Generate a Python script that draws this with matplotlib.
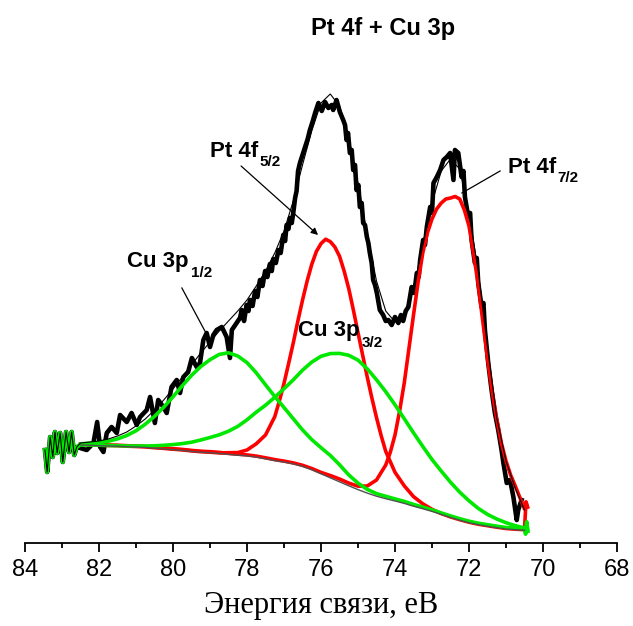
import numpy as np
import matplotlib.pyplot as plt
from matplotlib.ticker import MultipleLocator

plt.rcParams['font.family'] = ['Liberation Sans', 'DejaVu Sans']

# binding energy grid of the fitted curves, eV
energy = np.array([82.5, 82.25, 82.0, 81.75, 81.5, 81.25, 81.0, 80.75, 80.5, 80.25,
                   80.0, 79.75, 79.5, 79.25, 79.0, 78.75, 78.5, 78.25, 78.0, 77.75,
                   77.5, 77.25, 77.0, 76.75, 76.5, 76.25, 76.0, 75.75, 75.5, 75.25,
                   75.0, 74.75, 74.5, 74.25, 74.0, 73.75, 73.5, 73.25, 73.0, 72.75,
                   72.5, 72.25, 72.0, 71.75, 71.5, 71.25, 71.0, 70.75, 70.5])

# Shirley background
background = np.array([98, 97.8, 97.3, 97, 96.8, 96.3, 96, 95.6, 94.8, 94.1,
                       93.3, 92.6, 91.6, 90.8, 90.3, 89.6, 88.6, 87.8, 87.1, 85.9,
                       84.2, 82.4, 80.9, 79.1, 76.7, 73.3, 69.2, 65.2, 61.2, 57.2,
                       53.4, 49.9, 46.8, 44.3, 42, 39.6, 36.8, 34.3, 31.6, 28.6,
                       25.6, 22.8, 20.3, 18.3, 16.8, 15.3, 14, 13.3, 12.8])

# components (peak + background)
cu_3p12 = np.array([99.2, 99.7, 100.4, 101.7, 104.1, 107.5, 112.2, 118.8, 126.6, 135.8,
                    146.2, 157.2, 167.6, 176.4, 183.3, 188.6, 190.2, 187, 180.4, 170.2,
                    158.2, 146.5, 135.5, 124.3, 113.1, 103.4, 95.3, 87.6, 78.3, 68.1,
                    59.9, 53.6, 49.4, 46.7, 44.1, 41.6, 38.6, 35.9, 33.1, 30.1,
                    27.1, 24.3, 21.8, 19.8, 18.3, 16.8, 15.5, 14.8, 14.3])
cu_3p32 = np.array([98, 98, 97.8, 97.5, 97.3, 97, 97, 97, 97.2, 97.7,
                    98.4, 99.4, 100.8, 103, 105.5, 108.2, 111.8, 116.6, 123.2, 130.8,
                    137.8, 145.7, 154.3, 163.1, 172.8, 180.9, 186.7, 189.4, 189.6, 187.7,
                    182.9, 174.2, 163.2, 151.3, 138.2, 124.3, 110.2, 96.6, 83.5, 71.9,
                    60.8, 50.8, 42.2, 34.6, 28.6, 24, 20.3, 17.3, 15])
pt_4f52 = np.array([98.5, 98.3, 97.8, 97.5, 97.3, 96.8, 96.5, 96.1, 95.3, 94.6,
                    93.8, 93.1, 92.1, 91.3, 90.8, 90.1, 90.3, 90.4, 93, 99.2,
                    108, 126.3, 159.6, 200, 242.8, 278.6, 299.4, 301.4, 286.8, 254.4,
                    210.3, 166, 125.4, 91.6, 70.7, 57.2, 46.4, 39.2, 33.7, 29.4,
                    26.1, 23.3, 20.8, 18.8, 17.3, 15.8, 14.5, 13.8, 13.3])
pt_4f72 = np.array([99, 98.8, 98.3, 98, 97.8, 97.3, 97, 96.6, 95.8, 95.1,
                    94.3, 93.6, 92.6, 91.8, 91.3, 90.6, 89.6, 88.8, 88.1, 86.9,
                    85.2, 83.4, 81.9, 80.1, 77.7, 74.5, 70.6, 67.5, 64, 59.9,
                    56.8, 57, 63, 78, 108, 160, 228, 290, 324, 340,
                    345, 344, 317, 258, 184, 124, 82, 57, 34])
envelope = np.array([100, 101, 102, 104, 107, 111, 117, 124, 133, 143,
                     154, 166, 178, 190, 201, 212, 222, 232, 243, 257,
                     272, 290, 312, 342, 378, 412, 440, 449, 437, 404,
                     360, 308, 262, 232, 221, 228, 255, 297, 340, 372,
                     384, 374, 330, 272, 196, 125, 82, 55, 33])

# extra points across the two Pt peaks (half grid steps)
pt_4f52_mid_e = np.array([77.125, 76.875, 76.625, 76.375, 76.125, 75.875,
                          75.625, 75.375, 75.125, 74.875, 74.625, 74.375])
pt_4f52_mid_h = np.array([142, 179.5, 222, 262, 291.5, 303.8,
                          296, 272, 233, 188, 145, 107.5])
pt_4f72_mid_e = np.array([74.125, 73.875, 73.625, 73.375, 73.125, 72.875, 72.625,
                          72.375, 72.125, 71.875, 71.625, 71.375, 71.125, 70.875])
pt_4f72_mid_h = np.array([91, 132, 194, 261, 310, 334, 344,
                          346.5, 333, 289, 221, 152, 100, 68])

# raw data outside the fit window
edge_e = np.array([83.46, 83.40, 83.32, 83.25, 83.19, 83.13, 83.05, 82.98, 82.89,
                   82.81, 82.74, 82.67, 82.60])
edge_h = np.array([93, 71, 106, 86, 111, 90, 110, 81, 111, 91, 111, 88, 96])
tail_green_e = np.array([70.47, 70.44, 70.41])
tail_green_h = np.array([9, 21, 12])
tail_red_e = np.array([70.46, 70.42])
tail_red_h = np.array([41, 36])

# measured spectrum
raw_e = np.array([82.51, 82.33, 82.15, 82.05, 81.97, 81.88, 81.79, 81.66, 81.52, 81.43,
                  81.25, 81.12, 80.98, 80.89, 80.71, 80.62, 80.49, 80.40, 80.26, 80.17,
                  80.04, 79.90, 79.81, 79.72, 79.59, 79.49, 79.36, 79.27, 79.18, 79.09,
                  79.00, 78.91, 78.82, 78.68, 78.55, 78.46, 78.41, 78.28, 78.19, 78.14,
                  78.08, 78.01, 77.96, 77.92, 77.85, 77.78, 77.72, 77.65, 77.58, 77.51,
                  77.45, 77.38, 77.33, 77.29, 77.22, 77.15, 77.09, 77.02, 76.97, 76.93,
                  76.88, 76.84, 76.79, 76.75, 76.70, 76.66, 76.62, 76.57, 76.50, 76.43,
                  76.36, 76.30, 76.23, 76.16, 76.07, 75.98, 75.89, 75.80, 75.71, 75.67,
                  75.58, 75.49, 75.40, 75.35, 75.31, 75.27, 75.22, 75.17, 75.13, 75.08,
                  75.04, 74.99, 74.95, 74.90, 74.86, 74.81, 74.76, 74.72, 74.68, 74.63,
                  74.59, 74.54, 74.49, 74.41, 74.32, 74.25, 74.18, 74.09, 74.00, 73.91,
                  73.84, 73.78, 73.71, 73.64, 73.55, 73.48, 73.41, 73.36, 73.32, 73.24,
                  73.19, 73.14, 73.05, 73.00, 72.96, 72.87, 72.78, 72.69, 72.60, 72.51,
                  72.42, 72.38, 72.29, 72.20, 72.15, 72.11, 72.02, 71.97, 71.93, 71.84,
                  71.79, 71.75, 71.66, 71.61, 71.57, 71.48, 71.39, 71.30, 71.21, 71.12,
                  71.07, 70.98, 70.89, 70.80, 70.71, 70.67, 70.58])
raw_h = np.array([95, 93, 100, 121, 96, 91, 110, 116, 110, 128,
                  121, 130, 118, 126, 133, 146, 120, 143, 136, 130,
                  156, 163, 150, 166, 171, 185, 176, 180, 203, 210,
                  196, 208, 213, 216, 206, 185, 213, 220, 225, 233,
                  222, 238, 232, 243, 237, 252, 246, 263, 257, 272,
                  266, 279, 272, 284, 280, 293, 290, 308, 302, 318,
                  314, 325, 320, 330, 345, 352, 372, 380, 388, 396,
                  404, 413, 421, 430, 440, 432, 441, 435, 438, 433,
                  443, 431, 423, 418, 403, 410, 390, 393, 373, 378,
                  353, 358, 336, 340, 320, 318, 306, 300, 290, 280,
                  263, 258, 250, 233, 228, 222, 223, 218, 226, 220,
                  228, 222, 232, 236, 256, 250, 270, 266, 283, 303,
                  298, 316, 336, 330, 360, 366, 373, 383, 386, 390,
                  363, 393, 390, 366, 372, 346, 326, 330, 303, 280,
                  285, 260, 236, 240, 213, 180, 153, 130, 113, 93,
                  80, 60, 63, 46, 23, 33, 43])

red = '#ff0000'
green = '#00e800'


def merged(e1, h1, e2, h2):
    e = np.concatenate([e1, e2])
    h = np.concatenate([h1, h2])
    order = np.argsort(-e)
    return e[order], h[order]


fig = plt.figure(figsize=(6.33, 6.26), dpi=100)
ax = fig.add_axes([25 / 633, 83 / 626, 592 / 633, 503 / 626])

ax.plot(np.concatenate([edge_e, raw_e]), np.concatenate([edge_h, raw_h]),
        color='k', lw=3.3, zorder=2)

for comp, mid_e, mid_h in ((pt_4f52, pt_4f52_mid_e, pt_4f52_mid_h),
                           (pt_4f72, pt_4f72_mid_e, pt_4f72_mid_h)):
    e, h = merged(energy, comp, mid_e, mid_h)
    ax.plot(np.concatenate([e, tail_red_e]), np.concatenate([h, tail_red_h]),
            color=red, lw=2.6, zorder=3)
for comp in (cu_3p12, cu_3p32):
    ax.plot(np.concatenate([edge_e, energy, tail_green_e]),
            np.concatenate([edge_h, comp, tail_green_h]),
            color=green, lw=2.6, zorder=3)

ax.plot(energy, background, color='#505050', lw=1, zorder=4)
ax.plot(np.concatenate([edge_e, energy]), np.concatenate([edge_h, envelope]),
        color='k', lw=0.8, zorder=4)

ax.set_xlim(84, 68)
ax.set_ylim(0, 503)
ax.set_xticks([84, 82, 80, 78, 76, 74, 72, 70, 68])
ax.xaxis.set_minor_locator(MultipleLocator(1))
ax.tick_params(axis='x', which='major', length=6.5, width=1.3, labelsize=17, pad=5)
ax.tick_params(axis='x', which='minor', length=3.5, width=1.3)
ax.set_yticks([])
for side in ('left', 'right', 'top'):
    ax.spines[side].set_visible(False)
ax.spines['bottom'].set_linewidth(1.3)
ax.set_xlabel('Энергия связи, еВ', family=['Liberation Serif', 'DejaVu Serif'],
              fontsize=22, labelpad=7)


# peak labels
def px(x, y):
    return x / 633, 1 - y / 626


fig.text(*px(383, 35), 'Pt 4f + Cu 3p', ha='center', va='baseline',
         fontsize=17, weight='bold')
labels = [('Cu 3p', '1/2', 127, 267, 191, 277),
          ('Pt 4f', '5/2', 210, 157, 259, 166),
          ('Pt 4f', '7/2', 508, 173, 557, 182),
          ('Cu 3p', '3/2', 298, 336, 362, 347)]
for main, sub, x0, y0, x1, y1 in labels:
    fig.text(*px(x0, y0), main, va='baseline', fontsize=16, weight='bold')
    fig.text(*px(x1, y1), sub, va='baseline', fontsize=11, weight='bold')

ax.plot([79.76, 79.08], [255, 208], color='k', lw=0.9, zorder=5)
ax.plot([71.16, 72.19], [372, 350], color='k', lw=0.9, zorder=5)
ax.annotate('', xy=(76.08, 308), xytext=(78.16, 377),
            arrowprops=dict(arrowstyle='-|>', color='k', lw=0.9,
                            mutation_scale=10, shrinkA=0, shrinkB=0))

fig.savefig('out.png', dpi=100)
